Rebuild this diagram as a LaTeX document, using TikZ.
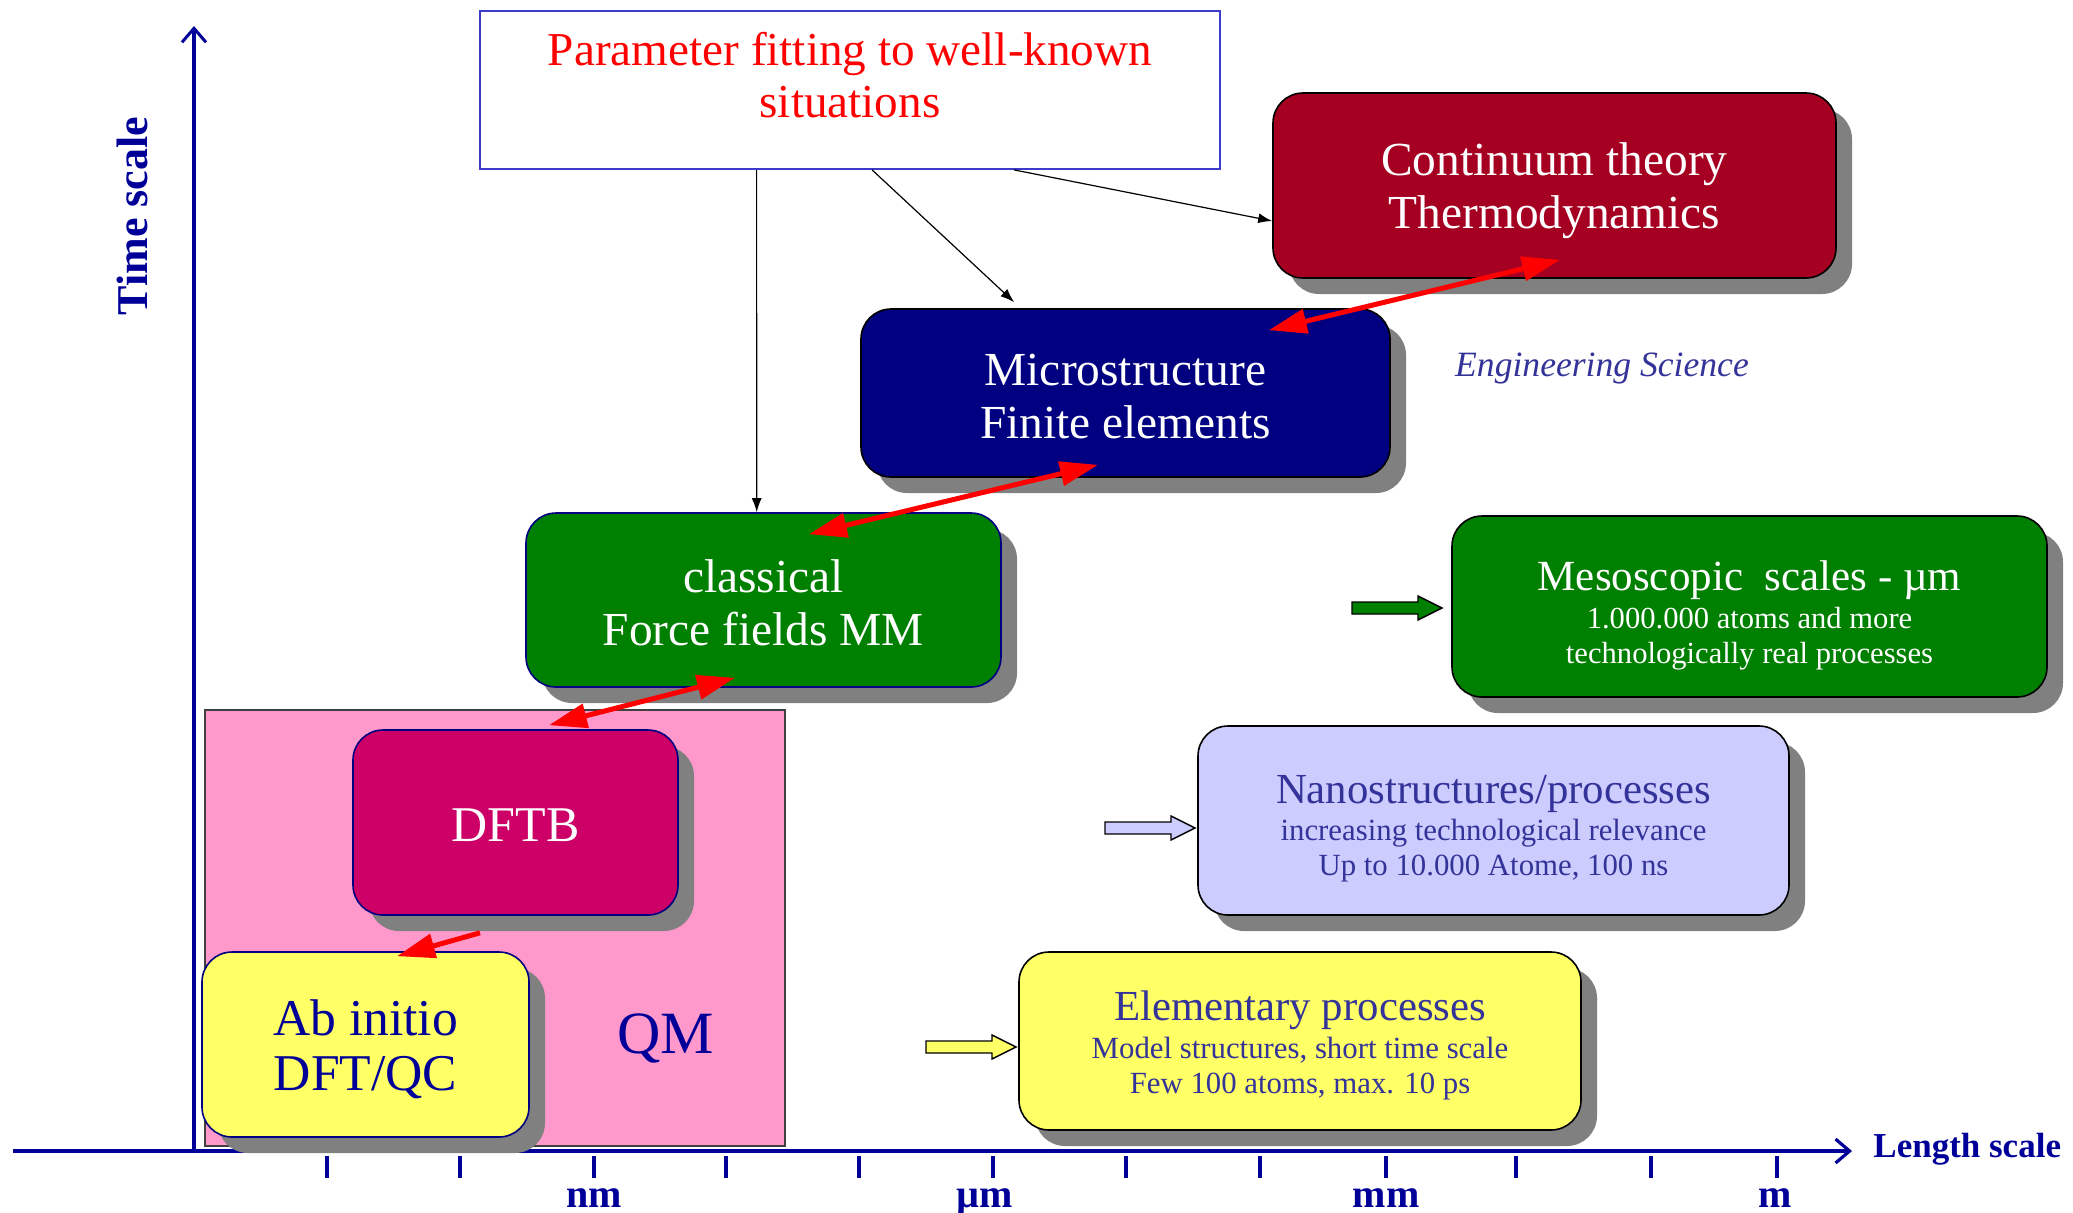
\documentclass[tikz,border=0pt]{standalone}
\usepackage{fontspec}
\setmainfont{Liberation Serif}
\usetikzlibrary{arrows.meta,shadows}
\definecolor{axisblue}{RGB}{0,0,153}
\definecolor{contred}{RGB}{165,0,33}
\definecolor{navybox}{RGB}{0,0,128}
\definecolor{greenbox}{RGB}{0,128,0}
\definecolor{dftbcol}{RGB}{204,0,102}
\definecolor{qmpink}{RGB}{255,153,204}
\definecolor{lavbox}{RGB}{204,204,255}
\definecolor{yellowbox}{RGB}{255,255,102}
\definecolor{shadowgray}{RGB}{128,128,128}
\definecolor{textblue}{RGB}{51,51,153}
\definecolor{frameblue}{RGB}{60,60,200}
\newcommand{\fsz}[2]{\fontsize{#1}{#2}\selectfont}
\newcommand{\topstrut}[1]{\rule{0pt}{#1}}
\newcommand{\blockarrow}[4]{\draw[line width=0.7pt,fill=#4] (#1,#3-6) -- (#2-24,#3-6) -- (#2-24,#3-12) -- (#2,#3) -- (#2-24,#3+12) -- (#2-24,#3+6) -- (#1,#3+6) -- cycle;}
\begin{document}
\begin{tikzpicture}[x=0.5pt,y=-0.5pt,
  shadowed/.style={drop shadow={shadow xshift=8pt,shadow yshift=-8pt,fill=shadowgray,opacity=1}},
  box/.style={shadowed,draw=black,line width=0.8pt,rounded corners=15pt,align=center,inner sep=0pt},
  bigtext/.style={font=\fsz{23.7}{26.5}},
  redarr/.style={red,line width=2.5pt,{Triangle[length=19pt,width=12pt]}-{Triangle[length=19pt,width=12pt]}},
  redone/.style={red,line width=2.5pt,-{Triangle[length=19pt,width=12pt]}},
  blackarr/.style={black,line width=0.6pt,-{Latex[length=7pt,width=5pt]}},
  axisline/.style={axisblue,line width=2.2pt},
  scaletick/.style={axisblue,line width=1.6pt},
  ticklabel/.style={text=axisblue,font=\bfseries\fsz{20}{24},anchor=base,inner sep=0pt}]
\useasboundingbox (0,0) rectangle (2073,1212);
\fill[white] (0,0) rectangle (2073,1212);

% axes
\coordinate (orig) at (194,1151);
\coordinate (ytop) at (194,26);
\coordinate (xleft) at (13,1151);
\coordinate (xright) at (1852,1151);
\draw[axisline,-{Straight Barb[length=7pt,width=12pt,line width=1.5pt]}] (orig) -- (ytop);
\draw[axisline,-{Straight Barb[length=7pt,width=12pt,line width=1.6pt]}] (xleft) -- (xright);
\foreach \t in {327,460,594,726,859,993,1126,1260,1386,1516,1651,1777}
  \draw[scaletick] (\t,1156) -- (\t,1178);
\node[ticklabel] (lnm) at (594,1207) {nm};
\node[ticklabel] (lum) at (985,1207) {µm};
\node[ticklabel] (lmm) at (1386,1207) {mm};
\node[ticklabel] (lm) at (1775,1207) {m};
\node[rotate=90,text=axisblue,font=\bfseries\fsz{22}{26},inner sep=0pt] (tscale) at (132,216) {Time scale};
\node[anchor=base west,text=axisblue,font=\bfseries\fsz{17.5}{21},inner sep=0pt] (lscale) at (1873,1157) {Length scale};

% QM region
\node[draw=black!75,line width=0.6pt,fill=qmpink,minimum width=290pt,minimum height=218pt,inner sep=0pt] (qm) at (495,928) {};
\node[text=axisblue,font=\fsz{30}{34},inner sep=0pt] (qmlabel) at (666,1038) {QM};

% top box
\node[draw=frameblue,line width=0.9pt,fill=white,minimum width=370pt,minimum height=79pt,inner sep=0pt] (top) at (850,90) {};
\node[text=red,align=center,font=\fsz{23.6}{26},inner sep=0pt] (toptext) at (850,75) {Parameter fitting to well-known\\situations};

% boxes
\node[box,bigtext,fill=contred,text=white,minimum width=281.5pt,minimum height=92.5pt] (cont) at (1554.5,185.5) {\topstrut{21.6pt}Continuum theory\\Thermodynamics};
\node[box,bigtext,fill=navybox,text=white,minimum width=264.5pt,minimum height=84pt] (micro) at (1125.5,393) {\topstrut{18.8pt}Microstructure\\Finite elements};
\node[box,bigtext,fill=greenbox,draw=navybox,text=white,minimum width=237.5pt,minimum height=87pt] (cls) at (763.5,600) {\topstrut{18.8pt}classical\\Force fields MM};
\node[box,fill=greenbox,text=white,minimum width=297.5pt,minimum height=90.5pt,font=\fsz{15.3}{17.5}] (meso) at (1749.5,606.5) {{\fsz{21.5}{24}\topstrut{23.4pt}Mesoscopic\ \ scales - µm}\\[1.5pt]1.000.000 atoms and more\\technologically real processes};
\node[box,fill=lavbox,text=textblue,minimum width=295.5pt,minimum height=94.5pt,font=\fsz{15.4}{17.2}] (nano) at (1493.5,820.5) {{\fsz{21.4}{24}\topstrut{22pt}Nanostructures/processes}\\[1.5pt]increasing technological relevance\\Up to 10.000 Atome, 100 ns};
\node[box,fill=yellowbox,text=textblue,minimum width=281pt,minimum height=89pt,font=\fsz{15.4}{17.4}] (elem) at (1300,1041) {{\fsz{21.4}{24}\topstrut{19.4pt}Elementary processes}\\[1.5pt]Model structures, short time scale\\Few 100 atoms, max. 10 ps};
\node[box,fill=dftbcol,draw=navybox,text=white,minimum width=162.5pt,minimum height=92.5pt,font=\fsz{25}{28}] (dftb) at (515.5,822.5) {\topstrut{19.2pt}DFTB};
\node[box,fill=yellowbox,draw=navybox,text=axisblue,minimum width=163.5pt,minimum height=92.5pt,font=\fsz{25.8}{27.7}] (abinit) at (365.5,1044.5) {\topstrut{22.8pt}Ab initio\\DFT/QC};

\node[text=textblue,font=\itshape\fsz{17.8}{21},inner sep=0pt] (eng) at (1602,368) {Engineering Science};

% block arrows
\blockarrow{1352}{1442}{608}{greenbox}
\blockarrow{1105}{1195}{828}{lavbox}
\blockarrow{926}{1016}{1047}{yellowbox}

% black arrows from the top box
\draw[blackarr] ([xshift=138.75pt]top.south west) -- ([xshift=115.75pt]cls.north west);
\draw[blackarr] ([xshift=196.5pt]top.south west) -- ([xshift=77pt,yshift=3pt]micro.north west);
\draw[blackarr] ([xshift=267.5pt]top.south west) -- ([yshift=-17.75pt]cont.west);

% red arrows
\draw[redarr] ([xshift=2.75pt,yshift=9.5pt]cont.south) -- ([xshift=-61pt,yshift=-11pt]micro.north east);
\draw[redarr] ([xshift=-13.75pt,yshift=6.5pt]micro.south) -- ([xshift=22.75pt,yshift=-11pt]cls.north);
\draw[redarr] ([xshift=-14.25pt,yshift=5pt]cls.south) -- ([xshift=16.75pt,yshift=2pt]dftb.north);
\draw[redone] ([xshift=-17.75pt,yshift=-8.5pt]dftb.south) -- ([xshift=15.75pt,yshift=-2.5pt]abinit.north);
\end{tikzpicture}
\end{document}
